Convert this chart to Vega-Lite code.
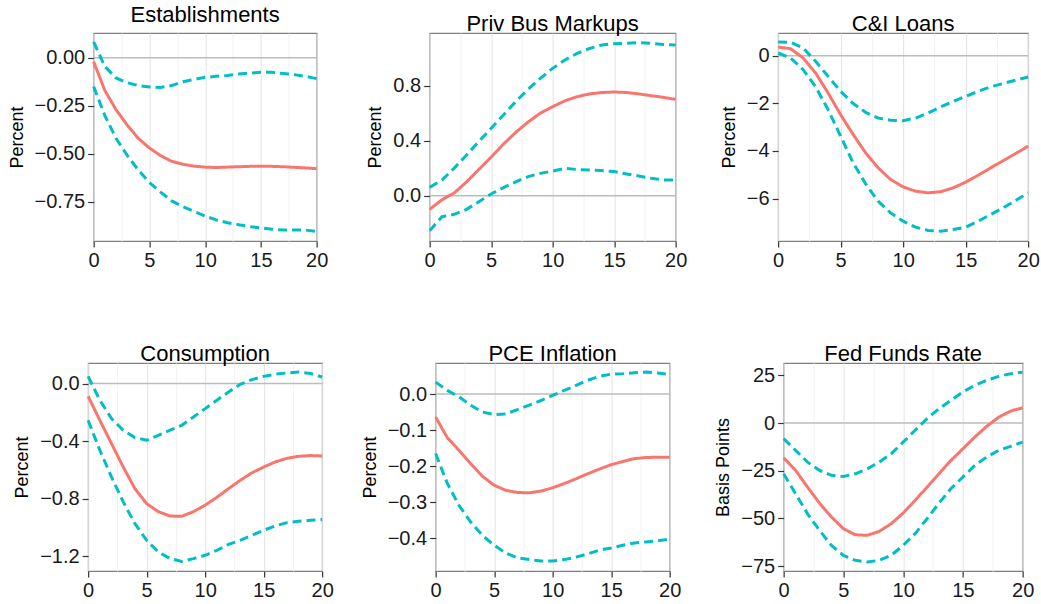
{
"$schema": "https://vega.github.io/schema/vega-lite/v6.json",
"padding": {"left": 7, "top": 3, "right": 0, "bottom": 0},
"background": "white",
"config": {
 "font": "Liberation Sans",
 "view": {"stroke": "#7f7f7f", "strokeWidth": 1.2},
 "title": {"fontSize": 22, "fontWeight": "normal", "color": "#000000", "offset": -3, "anchor": "middle"},
 "axis": {"labelFontSize": 20, "labelColor": "#1a1a1a", "titleFontSize": 18, "titleFontWeight": "normal", "titleColor": "#000000", "domain": false, "tickColor": "#333333", "tickSize": 6, "tickWidth": 1.2, "labelPadding": 3, "titlePadding": 8, "labelOverlap": false, "labelFlush": false}
},
"datasets": {"irf": [
{"p":"Establishments","h":0,"est":-0.02,"lo":-0.15,"hi":0.083},
{"p":"Establishments","h":1,"est":-0.17,"lo":-0.30,"hi":-0.045},
{"p":"Establishments","h":2,"est":-0.27,"lo":-0.42,"hi":-0.105},
{"p":"Establishments","h":3,"est":-0.35,"lo":-0.507,"hi":-0.13},
{"p":"Establishments","h":4,"est":-0.42,"lo":-0.585,"hi":-0.145},
{"p":"Establishments","h":5,"est":-0.47,"lo":-0.65,"hi":-0.152},
{"p":"Establishments","h":6,"est":-0.51,"lo":-0.70,"hi":-0.155},
{"p":"Establishments","h":7,"est":-0.54,"lo":-0.746,"hi":-0.145},
{"p":"Establishments","h":8,"est":-0.555,"lo":-0.776,"hi":-0.125},
{"p":"Establishments","h":9,"est":-0.565,"lo":-0.80,"hi":-0.113},
{"p":"Establishments","h":10,"est":-0.57,"lo":-0.825,"hi":-0.102},
{"p":"Establishments","h":11,"est":-0.572,"lo":-0.845,"hi":-0.097},
{"p":"Establishments","h":12,"est":-0.57,"lo":-0.86,"hi":-0.092},
{"p":"Establishments","h":13,"est":-0.568,"lo":-0.87,"hi":-0.085},
{"p":"Establishments","h":14,"est":-0.566,"lo":-0.88,"hi":-0.08},
{"p":"Establishments","h":15,"est":-0.565,"lo":-0.887,"hi":-0.076},
{"p":"Establishments","h":16,"est":-0.566,"lo":-0.894,"hi":-0.076},
{"p":"Establishments","h":17,"est":-0.568,"lo":-0.898,"hi":-0.082},
{"p":"Establishments","h":18,"est":-0.571,"lo":-0.898,"hi":-0.088},
{"p":"Establishments","h":19,"est":-0.574,"lo":-0.898,"hi":-0.097},
{"p":"Establishments","h":20,"est":-0.578,"lo":-0.905,"hi":-0.109},
{"p":"Priv Bus Markups","h":0,"est":-0.10,"lo":-0.255,"hi":0.06},
{"p":"Priv Bus Markups","h":1,"est":-0.03,"lo":-0.153,"hi":0.114},
{"p":"Priv Bus Markups","h":2,"est":0.02,"lo":-0.136,"hi":0.20},
{"p":"Priv Bus Markups","h":3,"est":0.10,"lo":-0.10,"hi":0.296},
{"p":"Priv Bus Markups","h":4,"est":0.19,"lo":-0.044,"hi":0.393},
{"p":"Priv Bus Markups","h":5,"est":0.28,"lo":0.012,"hi":0.49},
{"p":"Priv Bus Markups","h":6,"est":0.375,"lo":0.058,"hi":0.587},
{"p":"Priv Bus Markups","h":7,"est":0.46,"lo":0.10,"hi":0.684},
{"p":"Priv Bus Markups","h":8,"est":0.535,"lo":0.138,"hi":0.773},
{"p":"Priv Bus Markups","h":9,"est":0.60,"lo":0.162,"hi":0.853},
{"p":"Priv Bus Markups","h":10,"est":0.647,"lo":0.179,"hi":0.926},
{"p":"Priv Bus Markups","h":11,"est":0.69,"lo":0.199,"hi":0.987},
{"p":"Priv Bus Markups","h":12,"est":0.72,"lo":0.19,"hi":1.035},
{"p":"Priv Bus Markups","h":13,"est":0.74,"lo":0.187,"hi":1.07},
{"p":"Priv Bus Markups","h":14,"est":0.75,"lo":0.182,"hi":1.096},
{"p":"Priv Bus Markups","h":15,"est":0.754,"lo":0.175,"hi":1.105},
{"p":"Priv Bus Markups","h":16,"est":0.75,"lo":0.158,"hi":1.108},
{"p":"Priv Bus Markups","h":17,"est":0.74,"lo":0.143,"hi":1.113},
{"p":"Priv Bus Markups","h":18,"est":0.727,"lo":0.126,"hi":1.108},
{"p":"Priv Bus Markups","h":19,"est":0.715,"lo":0.114,"hi":1.10},
{"p":"Priv Bus Markups","h":20,"est":0.70,"lo":0.114,"hi":1.096},
{"p":"C&I Loans","h":0,"est":0.36,"lo":0.11,"hi":0.57},
{"p":"C&I Loans","h":1,"est":0.29,"lo":-0.10,"hi":0.56},
{"p":"C&I Loans","h":2,"est":-0.10,"lo":-0.59,"hi":0.32},
{"p":"C&I Loans","h":3,"est":-0.73,"lo":-1.31,"hi":-0.24},
{"p":"C&I Loans","h":4,"est":-1.57,"lo":-2.27,"hi":-0.87},
{"p":"C&I Loans","h":5,"est":-2.48,"lo":-3.38,"hi":-1.50},
{"p":"C&I Loans","h":6,"est":-3.31,"lo":-4.50,"hi":-2.01},
{"p":"C&I Loans","h":7,"est":-4.08,"lo":-5.38,"hi":-2.38},
{"p":"C&I Loans","h":8,"est":-4.71,"lo":-6.11,"hi":-2.62},
{"p":"C&I Loans","h":9,"est":-5.20,"lo":-6.60,"hi":-2.71},
{"p":"C&I Loans","h":10,"est":-5.51,"lo":-6.95,"hi":-2.73},
{"p":"C&I Loans","h":11,"est":-5.69,"lo":-7.20,"hi":-2.62},
{"p":"C&I Loans","h":12,"est":-5.76,"lo":-7.34,"hi":-2.41},
{"p":"C&I Loans","h":13,"est":-5.71,"lo":-7.37,"hi":-2.15},
{"p":"C&I Loans","h":14,"est":-5.55,"lo":-7.30,"hi":-1.92},
{"p":"C&I Loans","h":15,"est":-5.31,"lo":-7.20,"hi":-1.71},
{"p":"C&I Loans","h":16,"est":-5.02,"lo":-6.95,"hi":-1.50},
{"p":"C&I Loans","h":17,"est":-4.71,"lo":-6.67,"hi":-1.31},
{"p":"C&I Loans","h":18,"est":-4.41,"lo":-6.39,"hi":-1.17},
{"p":"C&I Loans","h":19,"est":-4.11,"lo":-6.08,"hi":-1.03},
{"p":"C&I Loans","h":20,"est":-3.80,"lo":-5.76,"hi":-0.90},
{"p":"Consumption","h":0,"est":-0.088,"lo":-0.255,"hi":0.05},
{"p":"Consumption","h":1,"est":-0.255,"lo":-0.463,"hi":-0.116},
{"p":"Consumption","h":2,"est":-0.417,"lo":-0.65,"hi":-0.243},
{"p":"Consumption","h":3,"est":-0.58,"lo":-0.822,"hi":-0.324},
{"p":"Consumption","h":4,"est":-0.73,"lo":-0.973,"hi":-0.375},
{"p":"Consumption","h":5,"est":-0.834,"lo":-1.089,"hi":-0.394},
{"p":"Consumption","h":6,"est":-0.89,"lo":-1.17,"hi":-0.36},
{"p":"Consumption","h":7,"est":-0.92,"lo":-1.216,"hi":-0.324},
{"p":"Consumption","h":8,"est":-0.922,"lo":-1.235,"hi":-0.29},
{"p":"Consumption","h":9,"est":-0.89,"lo":-1.216,"hi":-0.232},
{"p":"Consumption","h":10,"est":-0.845,"lo":-1.193,"hi":-0.174},
{"p":"Consumption","h":11,"est":-0.79,"lo":-1.158,"hi":-0.116},
{"p":"Consumption","h":12,"est":-0.73,"lo":-1.117,"hi":-0.058},
{"p":"Consumption","h":13,"est":-0.672,"lo":-1.089,"hi":-0.005},
{"p":"Consumption","h":14,"est":-0.62,"lo":-1.054,"hi":0.028},
{"p":"Consumption","h":15,"est":-0.58,"lo":-1.019,"hi":0.05},
{"p":"Consumption","h":16,"est":-0.544,"lo":-0.989,"hi":0.065},
{"p":"Consumption","h":17,"est":-0.519,"lo":-0.966,"hi":0.074},
{"p":"Consumption","h":18,"est":-0.505,"lo":-0.957,"hi":0.081},
{"p":"Consumption","h":19,"est":-0.50,"lo":-0.95,"hi":0.07},
{"p":"Consumption","h":20,"est":-0.503,"lo":-0.945,"hi":0.046},
{"p":"PCE Inflation","h":0,"est":-0.064,"lo":-0.165,"hi":0.033},
{"p":"PCE Inflation","h":1,"est":-0.121,"lo":-0.248,"hi":0.01},
{"p":"PCE Inflation","h":2,"est":-0.156,"lo":-0.309,"hi":-0.008},
{"p":"PCE Inflation","h":3,"est":-0.193,"lo":-0.355,"hi":-0.031},
{"p":"PCE Inflation","h":4,"est":-0.228,"lo":-0.392,"hi":-0.05},
{"p":"PCE Inflation","h":5,"est":-0.253,"lo":-0.419,"hi":-0.057},
{"p":"PCE Inflation","h":6,"est":-0.267,"lo":-0.441,"hi":-0.055},
{"p":"PCE Inflation","h":7,"est":-0.273,"lo":-0.454,"hi":-0.043},
{"p":"PCE Inflation","h":8,"est":-0.274,"lo":-0.459,"hi":-0.031},
{"p":"PCE Inflation","h":9,"est":-0.269,"lo":-0.463,"hi":-0.018},
{"p":"PCE Inflation","h":10,"est":-0.26,"lo":-0.463,"hi":-0.004},
{"p":"PCE Inflation","h":11,"est":-0.248,"lo":-0.459,"hi":0.01},
{"p":"PCE Inflation","h":12,"est":-0.235,"lo":-0.452,"hi":0.024},
{"p":"PCE Inflation","h":13,"est":-0.221,"lo":-0.443,"hi":0.038},
{"p":"PCE Inflation","h":14,"est":-0.208,"lo":-0.433,"hi":0.049},
{"p":"PCE Inflation","h":15,"est":-0.196,"lo":-0.427,"hi":0.055},
{"p":"PCE Inflation","h":16,"est":-0.187,"lo":-0.419,"hi":0.056},
{"p":"PCE Inflation","h":17,"est":-0.179,"lo":-0.413,"hi":0.059},
{"p":"PCE Inflation","h":18,"est":-0.176,"lo":-0.41,"hi":0.061},
{"p":"PCE Inflation","h":19,"est":-0.175,"lo":-0.407,"hi":0.058},
{"p":"PCE Inflation","h":20,"est":-0.175,"lo":-0.402,"hi":0.054},
{"p":"Fed Funds Rate","h":0,"est":-18.2,"lo":-26.6,"hi":-8.2},
{"p":"Fed Funds Rate","h":1,"est":-24.8,"lo":-37.1,"hi":-14.3},
{"p":"Fed Funds Rate","h":2,"est":-33.6,"lo":-47.6,"hi":-20.5},
{"p":"Fed Funds Rate","h":3,"est":-42.0,"lo":-56.3,"hi":-24.8},
{"p":"Fed Funds Rate","h":4,"est":-49.3,"lo":-64.2,"hi":-27.4},
{"p":"Fed Funds Rate","h":5,"est":-55.4,"lo":-69.4,"hi":-28.0},
{"p":"Fed Funds Rate","h":6,"est":-58.6,"lo":-72.0,"hi":-26.6},
{"p":"Fed Funds Rate","h":7,"est":-58.9,"lo":-72.9,"hi":-24.0},
{"p":"Fed Funds Rate","h":8,"est":-56.8,"lo":-72.0,"hi":-20.5},
{"p":"Fed Funds Rate","h":9,"est":-52.8,"lo":-69.4,"hi":-16.1},
{"p":"Fed Funds Rate","h":10,"est":-47.2,"lo":-64.2,"hi":-10.0},
{"p":"Fed Funds Rate","h":11,"est":-40.6,"lo":-58.0,"hi":-3.8},
{"p":"Fed Funds Rate","h":12,"est":-33.6,"lo":-50.2,"hi":2.3},
{"p":"Fed Funds Rate","h":13,"est":-26.6,"lo":-42.0,"hi":7.5},
{"p":"Fed Funds Rate","h":14,"est":-19.6,"lo":-34.4,"hi":11.9},
{"p":"Fed Funds Rate","h":15,"est":-13.5,"lo":-28.3,"hi":16.3},
{"p":"Fed Funds Rate","h":16,"est":-7.3,"lo":-22.2,"hi":19.8},
{"p":"Fed Funds Rate","h":17,"est":-1.7,"lo":-17.8,"hi":22.4},
{"p":"Fed Funds Rate","h":18,"est":3.1,"lo":-14.3,"hi":24.5},
{"p":"Fed Funds Rate","h":19,"est":6.3,"lo":-12.2,"hi":25.9},
{"p":"Fed Funds Rate","h":20,"est":8.0,"lo":-10.0,"hi":26.7}
]},
"data": {"name": "irf"},
"spacing": 26.5,
"hconcat": [
{"vconcat": [
{"title": "Establishments", "width": 223, "height": 208,
 "layer": [
  {"data": {"values": [{}]}, "mark": {"type": "rule", "color": "#bcbcbc", "strokeWidth": 1.5},
   "encoding": {"y": {"datum": 0, "type": "quantitative", "scale": {"domain": [-0.955, 0.129], "nice": false, "zero": false},
     "axis": {"title": "Percent", "values": [0.125,0,-0.125,-0.25,-0.375,-0.5,-0.625,-0.75,-0.875], "format": ".2f",
       "labelExpr": "indexof([0,-0.25,-0.5,-0.75], datum.value) >= 0 ? datum.label : ''",
       "gridColor": {"condition": {"test": "indexof([0,-0.25,-0.5,-0.75], datum.value) >= 0", "value": "#e3e3e3"}, "value": "#f2f2f2"},
       "tickOpacity": {"condition": {"test": "indexof([0,-0.25,-0.5,-0.75], datum.value) >= 0", "value": 1}, "value": 0}}}}},
  {"transform": [{"filter": "datum.p === 'Establishments'"}, {"fold": ["hi","lo","est"], "as": ["series","val"]}],
   "mark": {"type": "line", "strokeWidth": 3},
   "encoding": {
    "x": {"field": "h", "type": "quantitative", "scale": {"domain": [0,20], "nice": false, "zero": false},
      "axis": {"title": null, "values": [0,2.5,5,7.5,10,12.5,15,17.5,20], "format": "~g", "labelExpr": "datum.value % 5 === 0 ? datum.label : ''",
        "gridColor": {"condition": {"test": "datum.value % 5 === 0", "value": "#e3e3e3"}, "value": "#f2f2f2"},
        "tickOpacity": {"condition": {"test": "datum.value % 5 === 0", "value": 1}, "value": 0}}},
    "y": {"field": "val", "type": "quantitative", "scale": {"domain": [-0.955, 0.129], "nice": false, "zero": false},
     "axis": {"title": "Percent", "values": [0.125,0,-0.125,-0.25,-0.375,-0.5,-0.625,-0.75,-0.875], "format": ".2f",
       "labelExpr": "indexof([0,-0.25,-0.5,-0.75], datum.value) >= 0 ? datum.label : ''",
       "gridColor": {"condition": {"test": "indexof([0,-0.25,-0.5,-0.75], datum.value) >= 0", "value": "#e3e3e3"}, "value": "#f2f2f2"},
       "tickOpacity": {"condition": {"test": "indexof([0,-0.25,-0.5,-0.75], datum.value) >= 0", "value": 1}, "value": 0}}},
    "color": {"field": "series", "type": "nominal", "scale": {"domain": ["est","hi","lo"], "range": ["#F8766D","#00BFC4","#00BFC4"]}, "legend": null},
    "strokeDash": {"field": "series", "type": "nominal", "scale": {"domain": ["est","hi","lo"], "range": [[1,0],[9,5],[9,5]]}, "legend": null}
   }}
 ]},
{"title": "Consumption", "width": 234, "height": 208,
 "layer": [
  {"data": {"values": [{}]}, "mark": {"type": "rule", "color": "#bcbcbc", "strokeWidth": 1.5},
   "encoding": {"y": {"datum": 0, "type": "quantitative", "scale": {"domain": [-1.302, 0.143], "nice": false, "zero": false},
     "axis": {"title": "Percent", "values": [0,-0.2,-0.4,-0.6,-0.8,-1.0,-1.2], "format": ".1f",
       "labelExpr": "indexof([0,-0.4,-0.8,-1.2], datum.value) >= 0 ? datum.label : ''",
       "gridColor": {"condition": {"test": "indexof([0,-0.4,-0.8,-1.2], datum.value) >= 0", "value": "#e3e3e3"}, "value": "#f2f2f2"},
       "tickOpacity": {"condition": {"test": "indexof([0,-0.4,-0.8,-1.2], datum.value) >= 0", "value": 1}, "value": 0}}}}},
  {"transform": [{"filter": "datum.p === 'Consumption'"}, {"fold": ["hi","lo","est"], "as": ["series","val"]}],
   "mark": {"type": "line", "strokeWidth": 3},
   "encoding": {
    "x": {"field": "h", "type": "quantitative", "scale": {"domain": [0,20], "nice": false, "zero": false},
      "axis": {"title": null, "values": [0,2.5,5,7.5,10,12.5,15,17.5,20], "format": "~g", "labelExpr": "datum.value % 5 === 0 ? datum.label : ''",
        "gridColor": {"condition": {"test": "datum.value % 5 === 0", "value": "#e3e3e3"}, "value": "#f2f2f2"},
        "tickOpacity": {"condition": {"test": "datum.value % 5 === 0", "value": 1}, "value": 0}}},
    "y": {"field": "val", "type": "quantitative", "scale": {"domain": [-1.302, 0.143], "nice": false, "zero": false},
     "axis": {"title": "Percent", "values": [0,-0.2,-0.4,-0.6,-0.8,-1.0,-1.2], "format": ".1f",
       "labelExpr": "indexof([0,-0.4,-0.8,-1.2], datum.value) >= 0 ? datum.label : ''",
       "gridColor": {"condition": {"test": "indexof([0,-0.4,-0.8,-1.2], datum.value) >= 0", "value": "#e3e3e3"}, "value": "#f2f2f2"},
       "tickOpacity": {"condition": {"test": "indexof([0,-0.4,-0.8,-1.2], datum.value) >= 0", "value": 1}, "value": 0}}},
    "color": {"field": "series", "type": "nominal", "scale": {"domain": ["est","hi","lo"], "range": ["#F8766D","#00BFC4","#00BFC4"]}, "legend": null},
    "strokeDash": {"field": "series", "type": "nominal", "scale": {"domain": ["est","hi","lo"], "range": [[1,0],[9,5],[9,5]]}, "legend": null}
   }}
 ]}
], "spacing": 71, "center": true},
{"vconcat": [
{"title": "Priv Bus Markups", "width": 246, "height": 208,
 "layer": [
  {"data": {"values": [{}]}, "mark": {"type": "rule", "color": "#bcbcbc", "strokeWidth": 1.5},
   "encoding": {"y": {"datum": 0, "type": "quantitative", "scale": {"domain": [-0.33, 1.183], "nice": false, "zero": false},
     "axis": {"title": "Percent", "values": [-0.2,0,0.2,0.4,0.6,0.8,1.0], "format": ".1f",
       "labelExpr": "indexof([0,0.4,0.8], datum.value) >= 0 ? datum.label : ''",
       "gridColor": {"condition": {"test": "indexof([0,0.4,0.8], datum.value) >= 0", "value": "#e3e3e3"}, "value": "#f2f2f2"},
       "tickOpacity": {"condition": {"test": "indexof([0,0.4,0.8], datum.value) >= 0", "value": 1}, "value": 0}}}}},
  {"transform": [{"filter": "datum.p === 'Priv Bus Markups'"}, {"fold": ["hi","lo","est"], "as": ["series","val"]}],
   "mark": {"type": "line", "strokeWidth": 3},
   "encoding": {
    "x": {"field": "h", "type": "quantitative", "scale": {"domain": [0,20], "nice": false, "zero": false},
      "axis": {"title": null, "values": [0,2.5,5,7.5,10,12.5,15,17.5,20], "format": "~g", "labelExpr": "datum.value % 5 === 0 ? datum.label : ''",
        "gridColor": {"condition": {"test": "datum.value % 5 === 0", "value": "#e3e3e3"}, "value": "#f2f2f2"},
        "tickOpacity": {"condition": {"test": "datum.value % 5 === 0", "value": 1}, "value": 0}}},
    "y": {"field": "val", "type": "quantitative", "scale": {"domain": [-0.33, 1.183], "nice": false, "zero": false},
     "axis": {"title": "Percent", "values": [-0.2,0,0.2,0.4,0.6,0.8,1.0], "format": ".1f",
       "labelExpr": "indexof([0,0.4,0.8], datum.value) >= 0 ? datum.label : ''",
       "gridColor": {"condition": {"test": "indexof([0,0.4,0.8], datum.value) >= 0", "value": "#e3e3e3"}, "value": "#f2f2f2"},
       "tickOpacity": {"condition": {"test": "indexof([0,0.4,0.8], datum.value) >= 0", "value": 1}, "value": 0}}},
    "color": {"field": "series", "type": "nominal", "scale": {"domain": ["est","hi","lo"], "range": ["#F8766D","#00BFC4","#00BFC4"]}, "legend": null},
    "strokeDash": {"field": "series", "type": "nominal", "scale": {"domain": ["est","hi","lo"], "range": [[1,0],[9,5],[9,5]]}, "legend": null}
   }}
 ]},
{"title": "PCE Inflation", "width": 234, "height": 208,
 "layer": [
  {"data": {"values": [{}]}, "mark": {"type": "rule", "color": "#bcbcbc", "strokeWidth": 1.5},
   "encoding": {"y": {"datum": 0, "type": "quantitative", "scale": {"domain": [-0.4906, 0.086], "nice": false, "zero": false},
     "axis": {"title": "Percent", "values": [0.05,0,-0.05,-0.1,-0.15,-0.2,-0.25,-0.3,-0.35,-0.4,-0.45], "format": ".1f",
       "labelExpr": "indexof([0,-0.1,-0.2,-0.3,-0.4], datum.value) >= 0 ? datum.label : ''",
       "gridColor": {"condition": {"test": "indexof([0,-0.1,-0.2,-0.3,-0.4], datum.value) >= 0", "value": "#e3e3e3"}, "value": "#f2f2f2"},
       "tickOpacity": {"condition": {"test": "indexof([0,-0.1,-0.2,-0.3,-0.4], datum.value) >= 0", "value": 1}, "value": 0}}}}},
  {"transform": [{"filter": "datum.p === 'PCE Inflation'"}, {"fold": ["hi","lo","est"], "as": ["series","val"]}],
   "mark": {"type": "line", "strokeWidth": 3},
   "encoding": {
    "x": {"field": "h", "type": "quantitative", "scale": {"domain": [0,20], "nice": false, "zero": false},
      "axis": {"title": null, "values": [0,2.5,5,7.5,10,12.5,15,17.5,20], "format": "~g", "labelExpr": "datum.value % 5 === 0 ? datum.label : ''",
        "gridColor": {"condition": {"test": "datum.value % 5 === 0", "value": "#e3e3e3"}, "value": "#f2f2f2"},
        "tickOpacity": {"condition": {"test": "datum.value % 5 === 0", "value": 1}, "value": 0}}},
    "y": {"field": "val", "type": "quantitative", "scale": {"domain": [-0.4906, 0.086], "nice": false, "zero": false},
     "axis": {"title": "Percent", "values": [0.05,0,-0.05,-0.1,-0.15,-0.2,-0.25,-0.3,-0.35,-0.4,-0.45], "format": ".1f",
       "labelExpr": "indexof([0,-0.1,-0.2,-0.3,-0.4], datum.value) >= 0 ? datum.label : ''",
       "gridColor": {"condition": {"test": "indexof([0,-0.1,-0.2,-0.3,-0.4], datum.value) >= 0", "value": "#e3e3e3"}, "value": "#f2f2f2"},
       "tickOpacity": {"condition": {"test": "indexof([0,-0.1,-0.2,-0.3,-0.4], datum.value) >= 0", "value": 1}, "value": 0}}},
    "color": {"field": "series", "type": "nominal", "scale": {"domain": ["est","hi","lo"], "range": ["#F8766D","#00BFC4","#00BFC4"]}, "legend": null},
    "strokeDash": {"field": "series", "type": "nominal", "scale": {"domain": ["est","hi","lo"], "range": [[1,0],[9,5],[9,5]]}, "legend": null}
   }}
 ]}
], "spacing": 71, "center": true},
{"vconcat": [
{"title": "C&I Loans", "width": 250, "height": 208,
 "layer": [
  {"data": {"values": [{}]}, "mark": {"type": "rule", "color": "#bcbcbc", "strokeWidth": 1.5},
   "encoding": {"y": {"datum": 0, "type": "quantitative", "scale": {"domain": [-7.78, 0.95], "nice": false, "zero": false},
     "axis": {"title": "Percent", "values": [0,-1,-2,-3,-4,-5,-6,-7], "format": "d",
       "labelExpr": "indexof([0,-2,-4,-6], datum.value) >= 0 ? datum.label : ''",
       "gridColor": {"condition": {"test": "indexof([0,-2,-4,-6], datum.value) >= 0", "value": "#e3e3e3"}, "value": "#f2f2f2"},
       "tickOpacity": {"condition": {"test": "indexof([0,-2,-4,-6], datum.value) >= 0", "value": 1}, "value": 0}}}}},
  {"transform": [{"filter": "datum.p === 'C&I Loans'"}, {"fold": ["hi","lo","est"], "as": ["series","val"]}],
   "mark": {"type": "line", "strokeWidth": 3},
   "encoding": {
    "x": {"field": "h", "type": "quantitative", "scale": {"domain": [0,20], "nice": false, "zero": false},
      "axis": {"title": null, "values": [0,2.5,5,7.5,10,12.5,15,17.5,20], "format": "~g", "labelExpr": "datum.value % 5 === 0 ? datum.label : ''",
        "gridColor": {"condition": {"test": "datum.value % 5 === 0", "value": "#e3e3e3"}, "value": "#f2f2f2"},
        "tickOpacity": {"condition": {"test": "datum.value % 5 === 0", "value": 1}, "value": 0}}},
    "y": {"field": "val", "type": "quantitative", "scale": {"domain": [-7.78, 0.95], "nice": false, "zero": false},
     "axis": {"title": "Percent", "values": [0,-1,-2,-3,-4,-5,-6,-7], "format": "d",
       "labelExpr": "indexof([0,-2,-4,-6], datum.value) >= 0 ? datum.label : ''",
       "gridColor": {"condition": {"test": "indexof([0,-2,-4,-6], datum.value) >= 0", "value": "#e3e3e3"}, "value": "#f2f2f2"},
       "tickOpacity": {"condition": {"test": "indexof([0,-2,-4,-6], datum.value) >= 0", "value": 1}, "value": 0}}},
    "color": {"field": "series", "type": "nominal", "scale": {"domain": ["est","hi","lo"], "range": ["#F8766D","#00BFC4","#00BFC4"]}, "legend": null},
    "strokeDash": {"field": "series", "type": "nominal", "scale": {"domain": ["est","hi","lo"], "range": [[1,0],[9,5],[9,5]]}, "legend": null}
   }}
 ]},
{"title": "Fed Funds Rate", "width": 239, "height": 208,
 "layer": [
  {"data": {"values": [{}]}, "mark": {"type": "rule", "color": "#bcbcbc", "strokeWidth": 1.5},
   "encoding": {"y": {"datum": 0, "type": "quantitative", "scale": {"domain": [-77.6, 31.5], "nice": false, "zero": false},
     "axis": {"title": "Basis Points", "values": [25,12.5,0,-12.5,-25,-37.5,-50,-62.5,-75], "format": "d",
       "labelExpr": "indexof([25,0,-25,-50,-75], datum.value) >= 0 ? datum.label : ''",
       "gridColor": {"condition": {"test": "indexof([25,0,-25,-50,-75], datum.value) >= 0", "value": "#e3e3e3"}, "value": "#f2f2f2"},
       "tickOpacity": {"condition": {"test": "indexof([25,0,-25,-50,-75], datum.value) >= 0", "value": 1}, "value": 0}}}}},
  {"transform": [{"filter": "datum.p === 'Fed Funds Rate'"}, {"fold": ["hi","lo","est"], "as": ["series","val"]}],
   "mark": {"type": "line", "strokeWidth": 3},
   "encoding": {
    "x": {"field": "h", "type": "quantitative", "scale": {"domain": [0,20], "nice": false, "zero": false},
      "axis": {"title": null, "values": [0,2.5,5,7.5,10,12.5,15,17.5,20], "format": "~g", "labelExpr": "datum.value % 5 === 0 ? datum.label : ''",
        "gridColor": {"condition": {"test": "datum.value % 5 === 0", "value": "#e3e3e3"}, "value": "#f2f2f2"},
        "tickOpacity": {"condition": {"test": "datum.value % 5 === 0", "value": 1}, "value": 0}}},
    "y": {"field": "val", "type": "quantitative", "scale": {"domain": [-77.6, 31.5], "nice": false, "zero": false},
     "axis": {"title": "Basis Points", "values": [25,12.5,0,-12.5,-25,-37.5,-50,-62.5,-75], "format": "d",
       "labelExpr": "indexof([25,0,-25,-50,-75], datum.value) >= 0 ? datum.label : ''",
       "gridColor": {"condition": {"test": "indexof([25,0,-25,-50,-75], datum.value) >= 0", "value": "#e3e3e3"}, "value": "#f2f2f2"},
       "tickOpacity": {"condition": {"test": "indexof([25,0,-25,-50,-75], datum.value) >= 0", "value": 1}, "value": 0}}},
    "color": {"field": "series", "type": "nominal", "scale": {"domain": ["est","hi","lo"], "range": ["#F8766D","#00BFC4","#00BFC4"]}, "legend": null},
    "strokeDash": {"field": "series", "type": "nominal", "scale": {"domain": ["est","hi","lo"], "range": [[1,0],[9,5],[9,5]]}, "legend": null}
   }}
 ]}
], "spacing": 71, "center": true}
]
}
